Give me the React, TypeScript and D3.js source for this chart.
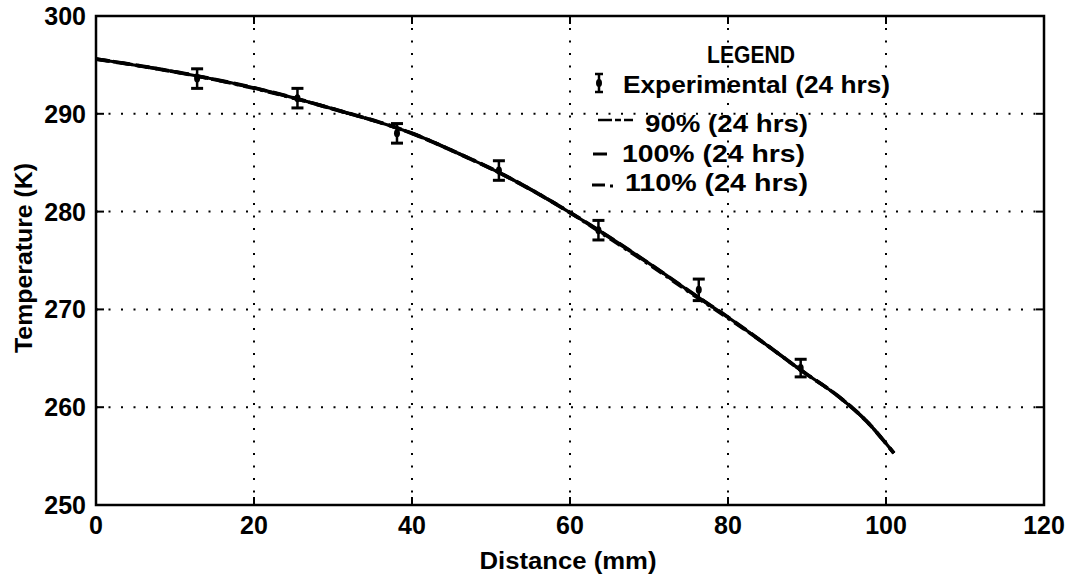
import React from "react";
import * as d3 from "d3";

const xTicks = [0, 20, 40, 60, 80, 100, 120];
const yTicks = [250, 260, 270, 280, 290, 300];

// Experimental points (24 hrs)
const expX = [12.8, 25.5, 38.1, 51.0, 63.6, 76.3, 89.2];
const expT = [293.6, 291.6, 288.0, 284.2, 278.1, 272.0, 264.0];
const expErr = [1.0, 1.0, 1.0, 1.0, 1.0, 1.1, 0.9];

// Model curves (nearly identical in the figure)
const modelX = [0, 10.6, 20, 30, 40, 46, 51, 60, 63.6, 70, 76.3, 80, 85, 89.2, 94.3, 97.5, 101];
const model90 = [295.6, 294.2, 292.65, 290.5, 288.0, 285.9, 284.0, 279.9, 278.1, 274.7, 271.2, 269.2, 266.3, 263.8, 260.9, 258.6, 255.3];
const model100 = [295.6, 294.2, 292.65, 290.5, 288.0, 285.9, 284.0, 279.9, 278.1, 274.7, 271.2, 269.2, 266.3, 263.8, 260.9, 258.6, 255.3];
const model110 = [295.6, 294.2, 292.6, 290.5, 288.0, 285.9, 284.0, 279.9, 278.0, 274.6, 271.1, 269.1, 266.3, 263.8, 260.9, 258.6, 255.3];

const legendLabels = ["Experimental (24 hrs)", "90% (24 hrs)", "100% (24 hrs)", "110% (24 hrs)"];

const FONT = "'Liberation Sans', Arial, Helvetica, sans-serif";

export default function App() {
  const x = d3.scaleLinear().domain([0, 120]).range([96, 1044]);
  const y = d3.scaleLinear().domain([250, 300]).range([505, 16]);
  const [x0, x1] = x.range();
  const [yb, yt] = y.range();

  const line = d3
    .line<number>()
    .x((_, i) => x(modelX[i]))
    .curve(d3.curveMonotoneX);

  const path = (vals: number[]) => line.y((d) => y(d))(vals) as string;

  const tickLen = 8;

  return (
    <svg
      width={1075}
      height={577}
      style={{ position: "absolute", left: 0, top: 0, background: "#fff" }}
      fontFamily={FONT}
    >
      <rect x={0} y={0} width={1075} height={577} fill="#fff" />
      {/* grid */}
      <g stroke="#000" strokeWidth={2} strokeDasharray="2,10.5" strokeLinecap="butt">
        {xTicks.slice(1, -1).map((t) => (
          <line key={"gx" + t} x1={x(t)} x2={x(t)} y1={yb} y2={yt} />
        ))}
        {yTicks.slice(1, -1).map((t) => (
          <line key={"gy" + t} x1={x0} x2={x1} y1={y(t)} y2={y(t)} />
        ))}
      </g>
      {/* ticks on all four sides */}
      <g stroke="#000" strokeWidth={2}>
        {xTicks.map((t) => (
          <g key={"tx" + t}>
            <line x1={x(t)} x2={x(t)} y1={yb} y2={yb - tickLen} />
            <line x1={x(t)} x2={x(t)} y1={yt} y2={yt + tickLen} />
          </g>
        ))}
        {yTicks.map((t) => (
          <g key={"ty" + t}>
            <line x1={x0} x2={x0 + tickLen} y1={y(t)} y2={y(t)} />
            <line x1={x1} x2={x1 - tickLen} y1={y(t)} y2={y(t)} />
          </g>
        ))}
      </g>
      {/* frame */}
      <rect x={x0} y={yt} width={x1 - x0} height={yb - yt} fill="none" stroke="#000" strokeWidth={2.5} />

      {/* model curves */}
      <path d={path(model100)} fill="none" stroke="#000" strokeWidth={3.2} />
      <path d={path(model90)} fill="none" stroke="#000" strokeWidth={3.8} strokeDasharray="14,6" />
      <path d={path(model110)} fill="none" stroke="#000" strokeWidth={3.5} strokeDasharray="12,5,3,5" />

      {/* experimental error bars */}
      <g stroke="#000" strokeWidth={2.5}>
        {expX.map((xv, i) => {
          const cx = x(xv);
          const top = y(expT[i] + expErr[i]);
          const bot = y(expT[i] - expErr[i]);
          return (
            <g key={"e" + i}>
              <line x1={cx} x2={cx} y1={top} y2={bot} />
              <line x1={cx - 6} x2={cx + 6} y1={top} y2={top} strokeWidth={3} />
              <line x1={cx - 6} x2={cx + 6} y1={bot} y2={bot} strokeWidth={3} />
              <ellipse cx={cx} cy={y(expT[i])} rx={3} ry={4} fill="#000" stroke="none" />
            </g>
          );
        })}
      </g>

      {/* tick labels */}
      <g fontSize={25} fontWeight="bold" fill="#000">
        {xTicks.map((t) => (
          <text key={"lx" + t} x={x(t)} y={534} textAnchor="middle">
            {t}
          </text>
        ))}
        {yTicks.map((t) => (
          <text key={"ly" + t} x={86} y={y(t)} dy="0.36em" textAnchor="end">
            {t}
          </text>
        ))}
      </g>

      {/* axis titles */}
      <text x={568} y={569} textAnchor="middle" fontSize={24} fontWeight="bold" textLength={177} lengthAdjust="spacingAndGlyphs" fill="#000">
        Distance (mm)
      </text>
      <text
        transform="translate(32,258) rotate(-90)"
        textAnchor="middle"
        fontSize={24}
        fontWeight="bold"
        textLength={190}
        lengthAdjust="spacingAndGlyphs"
        fill="#000"
      >
        Temperature (K)
      </text>

      {/* legend */}
      <g fill="#000" fontSize={24} fontWeight="bold">
        <text x={751} y={63} textAnchor="middle" textLength={88} lengthAdjust="spacingAndGlyphs">LEGEND</text>
        <text x={623} y={93} textLength={267} lengthAdjust="spacingAndGlyphs">{legendLabels[0]}</text>
        <text x={645} y={132} textLength={163} lengthAdjust="spacingAndGlyphs">{legendLabels[1]}</text>
        <text x={622} y={162} textLength={183} lengthAdjust="spacingAndGlyphs">{legendLabels[2]}</text>
        <text x={625} y={191} textLength={183} lengthAdjust="spacingAndGlyphs">{legendLabels[3]}</text>
      </g>
      <g stroke="#000">
        <line x1={599} x2={599} y1={74} y2={92} strokeWidth={2.5} />
        <line x1={595} x2={603} y1={74} y2={74} strokeWidth={2.5} />
        <line x1={595} x2={603} y1={92} y2={92} strokeWidth={2.5} />
        <ellipse cx={599} cy={83} rx={3} ry={4} fill="#000" stroke="none" />
        <line x1={598} x2={633} y1={120} y2={120} strokeWidth={2.5} strokeDasharray="14,3,6,3,9" />
        <line x1={593} x2={607} y1={154} y2={154} strokeWidth={3} />
        <line x1={592} x2={605} y1={185} y2={185} strokeWidth={3} />
        <line x1={610} x2={613} y1={186} y2={186} strokeWidth={3} />
      </g>
    </svg>
  );
}
